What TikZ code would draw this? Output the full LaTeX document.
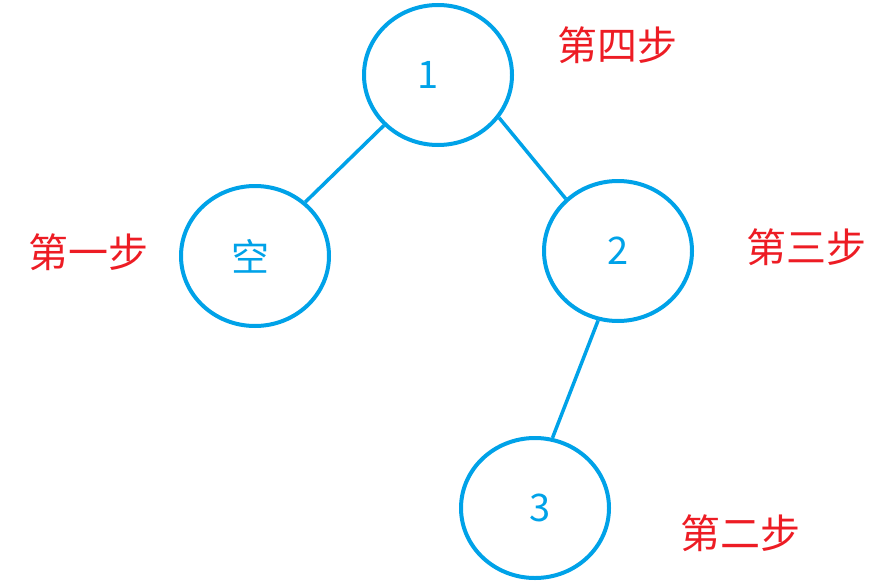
\documentclass[tikz,border=0pt]{standalone}
\usepackage{fontspec}
\newfontfamily\cjk{Noto Sans CJK SC}
\usetikzlibrary{shapes.geometric}
\definecolor{nodeblue}{RGB}{0,162,232}
\definecolor{stepred}{RGB}{237,28,36}
\tikzset{
  treenode/.style={ellipse,draw=nodeblue,line width=4pt,minimum width=148pt,minimum height=140pt,inner sep=0pt,text=nodeblue,font=\cjk\fontsize{38}{42}\selectfont},
  edge/.style={draw=nodeblue,line width=3.5pt},
  steplabel/.style={text=stepred,font=\cjk\fontsize{40}{44}\selectfont,inner sep=0pt}
}
\begin{document}
\begin{tikzpicture}[x=1pt,y=-1pt]
\useasboundingbox (0,0) rectangle (888,586);
\node[treenode] (n1) at (438,75) {\hspace*{-20pt}1};
\node[treenode] (nk) at (255,256) {\hspace*{-10pt}\raisebox{-3pt}{空}};
\node[treenode] (n2) at (618,251) {\raisebox{-4pt}{2}};
\node[treenode] (n3) at (535,508) {\hspace*{10pt}\raisebox{-6pt}{3}};
\draw[edge] (n1.223) -- (nk.47);
\draw[edge] (n1.325) -- (n2.135);
\draw[edge] (n2.254) -- (n3.76);
\node[steplabel] (s4) at (617,45) {第四步};
\node[steplabel] (s1) at (88,252) {第一步};
\node[steplabel] (s3) at (806,247) {第三步};
\node[steplabel] (s2) at (740,533) {第二步};
\end{tikzpicture}
\end{document}
